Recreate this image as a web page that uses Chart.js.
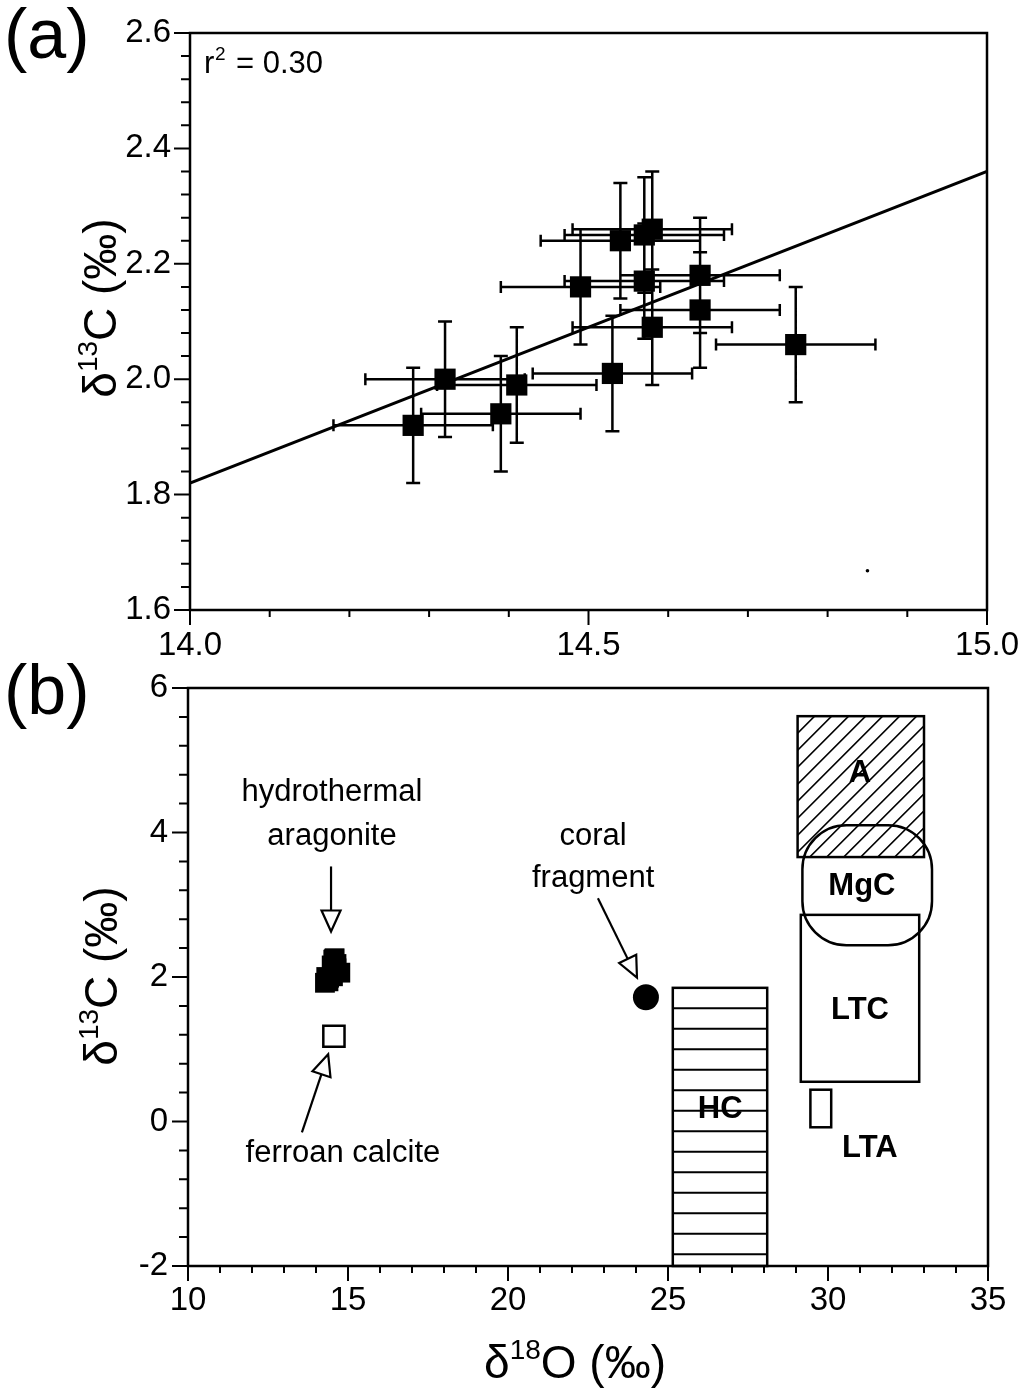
<!DOCTYPE html>
<html>
<head>
<meta charset="utf-8">
<script src="https://cdn.jsdelivr.net/npm/chart.js@4.4.1/dist/chart.umd.min.js"></script>
<style>
  html, body { margin: 0; padding: 0; background: #fff; }
  #wrap { position: relative; width: 1020px; height: 1395px; overflow: hidden; }
  #chartA { position: absolute; left: 0; top: 0; }
  #chartB { position: absolute; left: 0; top: 650px; }
</style>
</head>
<body>
<div id="wrap">
  <canvas id="chartA" width="1020" height="680"></canvas>
  <canvas id="chartB" width="1020" height="745"></canvas>
</div>
<script>
// hydrothermal aragonite samples (panel a, also the black squares of panel b)
var d18O = [14.28, 14.32, 14.39, 14.41, 14.53, 14.58, 14.76, 14.64, 14.64, 14.57, 14.54, 14.57, 14.58, 14.49];
var d13C = [1.92, 2.00, 1.94, 1.99, 2.01, 2.09, 2.06, 2.12, 2.18, 2.17, 2.24, 2.25, 2.26, 2.16];
var errO = [0.10, 0.10, 0.10, 0.10, 0.10, 0.10, 0.10, 0.10, 0.10, 0.10, 0.10, 0.10, 0.10, 0.10];
var errC = [0.10, 0.10, 0.10, 0.10, 0.10, 0.10, 0.10, 0.10, 0.10, 0.10, 0.10, 0.10, 0.10, 0.10];

// regression line, r2 = 0.30
var lineO = [14.0, 15.0];
var lineC = [1.82, 2.36];
var rSquared = '0.30';

// tick labels
var xTicksA = [14.0, 14.5, 15.0];
var yTicksA = [1.6, 1.8, 2.0, 2.2, 2.4, 2.6];
var xTicksB = [10, 15, 20, 25, 30, 35];
var yTicksB = [-2, 0, 2, 4, 6];

// panel b: other samples
var ferroanCalcite = [{ x: 14.56, y: 1.18 }];
var coralFragment = [{ x: 24.31, y: 1.72 }];

// panel b: reference fields [name, d18O min, d18O max, d13C min, d13C max]
var fieldNames = ['A', 'MgC', 'LTC', 'LTA', 'HC'];
var fieldO = [[29.05, 33.0], [29.2, 33.25], [29.15, 32.85], [29.45, 30.1], [25.15, 28.1]];
var fieldC = [[3.66, 5.61], [2.44, 4.10], [0.55, 2.86], [-0.08, 0.44], [-2.0, 1.85]];

var tickFont = '"Liberation Sans", Arial, sans-serif';
var textFont = '"Liberation Sans", Arial, sans-serif';

function drawFrame(ctx, area) {
  ctx.save();
  ctx.strokeStyle = '#000';
  ctx.lineWidth = 2.5;
  ctx.strokeRect(area.left, area.top, area.right - area.left, area.bottom - area.top);
  ctx.restore();
}

function drawTicks(ctx, chart, xMinor, yMinor) {
  var xs = chart.scales.x, ys = chart.scales.y, a = chart.chartArea;
  ctx.save();
  ctx.strokeStyle = '#000';
  ctx.lineWidth = 2;
  ctx.beginPath();
  var i, v, p, major;
  for (i = 0; ; i++) {
    v = xs.min + i * xMinor;
    if (v > xs.max + 1e-9) break;
    p = xs.getPixelForValue(v);
    major = xs.ticks.some(function (t) { return Math.abs(t.value - v) < 1e-6; });
    ctx.moveTo(p, a.bottom);
    ctx.lineTo(p, a.bottom + (major ? 15 : 7));
  }
  for (i = 0; ; i++) {
    v = ys.min + i * yMinor;
    if (v > ys.max + 1e-9) break;
    p = ys.getPixelForValue(v);
    major = ys.ticks.some(function (t) { return Math.abs(t.value - v) < 1e-6; });
    ctx.moveTo(a.left, p);
    ctx.lineTo(a.left - (major ? 16 : 9), p);
  }
  ctx.stroke();
  ctx.restore();
}

// δ with superscript mass number, e.g. δ13C (‰)
function drawIsotopeTitle(ctx, cx, cy, mass, element, rotate) {
  var parts = [
    { t: 'δ', f: '46px ' + textFont, dy: 0 },
    { t: mass, f: '28px ' + textFont, dy: -19 },
    { t: element + ' (‰)', f: '46px ' + textFont, dy: 0 }
  ];
  ctx.save();
  var total = 0;
  parts.forEach(function (p) { ctx.font = p.f; p.w = ctx.measureText(p.t).width; total += p.w; });
  ctx.translate(cx, cy);
  if (rotate) ctx.rotate(-Math.PI / 2);
  ctx.fillStyle = '#000';
  ctx.textBaseline = 'alphabetic';
  var x = -total / 2;
  parts.forEach(function (p) { ctx.font = p.f; ctx.fillText(p.t, x, 16 + p.dy); x += p.w; });
  ctx.restore();
}

function arrow(ctx, x1, y1, x2, y2) {
  var ang = Math.atan2(y2 - y1, x2 - x1), len = 21, half = 9.5;
  var bx = x2 - len * Math.cos(ang), by = y2 - len * Math.sin(ang);
  ctx.save();
  ctx.beginPath();
  ctx.moveTo(x1, y1);
  ctx.lineTo(bx, by);
  ctx.stroke();
  ctx.beginPath();
  ctx.moveTo(x2, y2);
  ctx.lineTo(bx + half * Math.sin(ang), by - half * Math.cos(ang));
  ctx.lineTo(bx - half * Math.sin(ang), by + half * Math.cos(ang));
  ctx.closePath();
  ctx.fillStyle = '#fff';
  ctx.fill();
  ctx.stroke();
  ctx.restore();
}

var panelA = {
  id: 'panelA',
  beforeDatasetsDraw: function (chart) {
    var ctx = chart.ctx, xs = chart.scales.x, ys = chart.scales.y;
    ctx.save();
    ctx.strokeStyle = '#000';
    ctx.lineWidth = 2.5;
    ctx.beginPath();
    d18O.forEach(function (o, i) {
      var px = xs.getPixelForValue(o), py = ys.getPixelForValue(d13C[i]);
      var xl = xs.getPixelForValue(o - errO[i]), xr = xs.getPixelForValue(o + errO[i]);
      var yt = ys.getPixelForValue(d13C[i] + errC[i]), yb = ys.getPixelForValue(d13C[i] - errC[i]);
      ctx.moveTo(xl, py); ctx.lineTo(xr, py);
      ctx.moveTo(xl, py - 6); ctx.lineTo(xl, py + 6);
      ctx.moveTo(xr, py - 6); ctx.lineTo(xr, py + 6);
      ctx.moveTo(px, yt); ctx.lineTo(px, yb);
      ctx.moveTo(px - 7, yt); ctx.lineTo(px + 7, yt);
      ctx.moveTo(px - 7, yb); ctx.lineTo(px + 7, yb);
    });
    ctx.stroke();
    ctx.restore();
  },
  afterDraw: function (chart) {
    var ctx = chart.ctx, a = chart.chartArea;
    drawFrame(ctx, a);
    drawTicks(ctx, chart, 0.1, 0.04);
    ctx.save();
    ctx.fillStyle = '#000';
    ctx.textBaseline = 'alphabetic';
    ctx.font = '70px ' + textFont;
    ctx.fillText('(a)', 4, 58);
    ctx.font = '31px ' + textFont;
    ctx.fillText('r', a.left + 14, a.top + 40);
    ctx.font = '19px ' + textFont;
    ctx.fillText('2', a.left + 25, a.top + 27);
    ctx.font = '31px ' + textFont;
    ctx.fillText('= ' + rSquared, a.left + 46, a.top + 40);
    ctx.restore();
    drawIsotopeTitle(ctx, 100, 308, '13', 'C', true);
  }
};

var labelsB = [
  { text: 'hydrothermal', x: 14.5, y: 4.56, bold: false },
  { text: 'aragonite', x: 14.5, y: 3.95, bold: false },
  { text: 'coral', x: 22.66, y: 3.94, bold: false },
  { text: 'fragment', x: 22.66, y: 3.36, bold: false },
  { text: 'ferroan calcite', x: 14.84, y: -0.44, bold: false },
  { text: 'A', x: 31.0, y: 4.82, bold: true },
  { text: 'MgC', x: 31.06, y: 3.25, bold: true },
  { text: 'LTC', x: 31.0, y: 1.54, bold: true },
  { text: 'HC', x: 26.63, y: 0.16, bold: true },
  { text: 'LTA', x: 31.31, y: -0.37, bold: true }
];
var arrowsB = [
  [14.47, 3.53, 14.47, 2.63],
  [22.81, 3.09, 24.03, 1.99],
  [13.56, -0.15, 14.38, 0.93]
];

var panelB = {
  id: 'panelB',
  beforeDatasetsDraw: function (chart) {
    var ctx = chart.ctx, xs = chart.scales.x, ys = chart.scales.y;
    function box(i) {
      var x0 = xs.getPixelForValue(fieldO[i][0]), x1 = xs.getPixelForValue(fieldO[i][1]);
      var y0 = ys.getPixelForValue(fieldC[i][1]), y1 = ys.getPixelForValue(fieldC[i][0]);
      return { x0: x0, x1: x1, y0: y0, y1: y1 };
    }
    ctx.save();
    ctx.strokeStyle = '#000';
    // A: diagonal hatching
    var b = box(0);
    ctx.save();
    ctx.beginPath(); ctx.rect(b.x0, b.y0, b.x1 - b.x0, b.y1 - b.y0); ctx.clip();
    ctx.lineWidth = 1.6;
    ctx.beginPath();
    var h = b.y1 - b.y0;
    for (var k = b.x0 - h; k < b.x1 + 5; k += 17) {
      ctx.moveTo(k, b.y1); ctx.lineTo(k + h, b.y0);
    }
    ctx.stroke();
    ctx.restore();
    ctx.lineWidth = 2.5;
    ctx.strokeRect(b.x0, b.y0, b.x1 - b.x0, b.y1 - b.y0);
    // LTC, LTA: open boxes
    [2, 3].forEach(function (i) {
      var c = box(i);
      ctx.strokeRect(c.x0, c.y0, c.x1 - c.x0, c.y1 - c.y0);
    });
    // HC: horizontal hatching
    b = box(4);
    ctx.lineWidth = 2;
    ctx.beginPath();
    for (var y = b.y0 + 20.5; y < b.y1 - 3; y += 20.5) {
      ctx.moveTo(b.x0, y); ctx.lineTo(b.x1, y);
    }
    ctx.stroke();
    ctx.lineWidth = 2.5;
    ctx.strokeRect(b.x0, b.y0, b.x1 - b.x0, b.y1 - b.y0);
    // MgC: rounded field
    b = box(1);
    ctx.beginPath();
    ctx.roundRect(b.x0, b.y0, b.x1 - b.x0, b.y1 - b.y0, 44);
    ctx.stroke();
    ctx.restore();
  },
  afterDraw: function (chart) {
    var ctx = chart.ctx, a = chart.chartArea, xs = chart.scales.x, ys = chart.scales.y;
    drawFrame(ctx, a);
    drawTicks(ctx, chart, 1, 0.4);
    ctx.save();
    ctx.fillStyle = '#000';
    ctx.textAlign = 'center';
    ctx.textBaseline = 'middle';
    labelsB.forEach(function (l) {
      ctx.font = (l.bold ? 'bold 31px ' : '31px ') + textFont;
      ctx.fillText(l.text, xs.getPixelForValue(l.x), ys.getPixelForValue(l.y));
    });
    ctx.strokeStyle = '#000';
    ctx.lineWidth = 2.2;
    arrowsB.forEach(function (r) {
      arrow(ctx, xs.getPixelForValue(r[0]), ys.getPixelForValue(r[1]), xs.getPixelForValue(r[2]), ys.getPixelForValue(r[3]));
    });
    ctx.fillStyle = '#000';
    ctx.textAlign = 'left';
    ctx.textBaseline = 'alphabetic';
    ctx.font = '70px ' + textFont;
    ctx.fillText('(b)', 4, 64);
    ctx.restore();
    drawIsotopeTitle(ctx, 101, 326, '13', 'C', true);
    drawIsotopeTitle(ctx, 575, 712, '18', 'O', false);
  }
};

function xy(xsArr, ysArr) {
  return xsArr.map(function (x, i) { return { x: x, y: ysArr[i] }; });
}

// fixed-size axis with hand-listed labelled ticks; no extra edge padding
function axisOpts(min, max, ticks, fmt, size, pad) {
  return {
    type: 'linear', min: min, max: max,
    afterBuildTicks: function (s) { s.ticks = ticks.map(function (v) { return { value: v }; }); },
    afterFit: function (s) {
      if (s.isHorizontal()) { s.height = size; s.paddingLeft = 0; s.paddingRight = 0; }
      else { s.width = size; s.paddingTop = 0; s.paddingBottom = 0; }
    },
    grid: { display: false, drawTicks: false },
    border: { display: false },
    ticks: {
      autoSkip: false, maxRotation: 0, color: '#000', padding: pad,
      font: { family: tickFont, size: 33 },
      callback: fmt
    }
  };
}

new Chart(document.getElementById('chartA'), {
  type: 'scatter',
  data: {
    datasets: [
      { label: 'fit', data: xy(lineO, lineC), showLine: true, borderColor: '#000', borderWidth: 3, pointRadius: 0 },
      { label: 'hydrothermal aragonite', data: xy(d18O, d13C), pointStyle: 'rect', pointRadius: 15, backgroundColor: '#000', borderWidth: 0 },
      { label: 'speck', data: [{ x: 14.85, y: 1.668 }], pointRadius: 1.8, backgroundColor: '#000', borderWidth: 0 }
    ]
  },
  options: {
    responsive: false, animation: false, devicePixelRatio: 1,
    layout: { padding: { left: 0, right: 33, top: 33, bottom: 0 } },
    plugins: { legend: { display: false }, tooltip: { enabled: false } },
    scales: {
      x: axisOpts(14, 15, xTicksA, function (v) { return v.toFixed(1); }, 70, 16),
      y: axisOpts(1.6, 2.6, yTicksA, function (v) { return v.toFixed(1); }, 190, 19)
    }
  },
  plugins: [panelA]
});

new Chart(document.getElementById('chartB'), {
  type: 'scatter',
  data: {
    datasets: [
      { label: 'hydrothermal aragonite', data: xy(d18O, d13C), pointStyle: 'rect', pointRadius: 14, backgroundColor: '#000', borderWidth: 0 },
      { label: 'ferroan calcite', data: ferroanCalcite, pointStyle: 'rect', pointRadius: 15, backgroundColor: '#fff', borderColor: '#000', borderWidth: 2.5 },
      { label: 'coral fragment', data: coralFragment, pointStyle: 'circle', pointRadius: 13, backgroundColor: '#000', borderWidth: 0 }
    ]
  },
  options: {
    responsive: false, animation: false, devicePixelRatio: 1,
    layout: { padding: { left: 0, right: 32, top: 38, bottom: 0 } },
    plugins: { legend: { display: false }, tooltip: { enabled: false } },
    scales: {
      x: axisOpts(10, 35, xTicksB, function (v) { return String(v); }, 129, 15),
      y: axisOpts(-2, 6, yTicksB, function (v) { return String(v); }, 188, 20)
    }
  },
  plugins: [panelB]
});
</script>
</body>
</html>
